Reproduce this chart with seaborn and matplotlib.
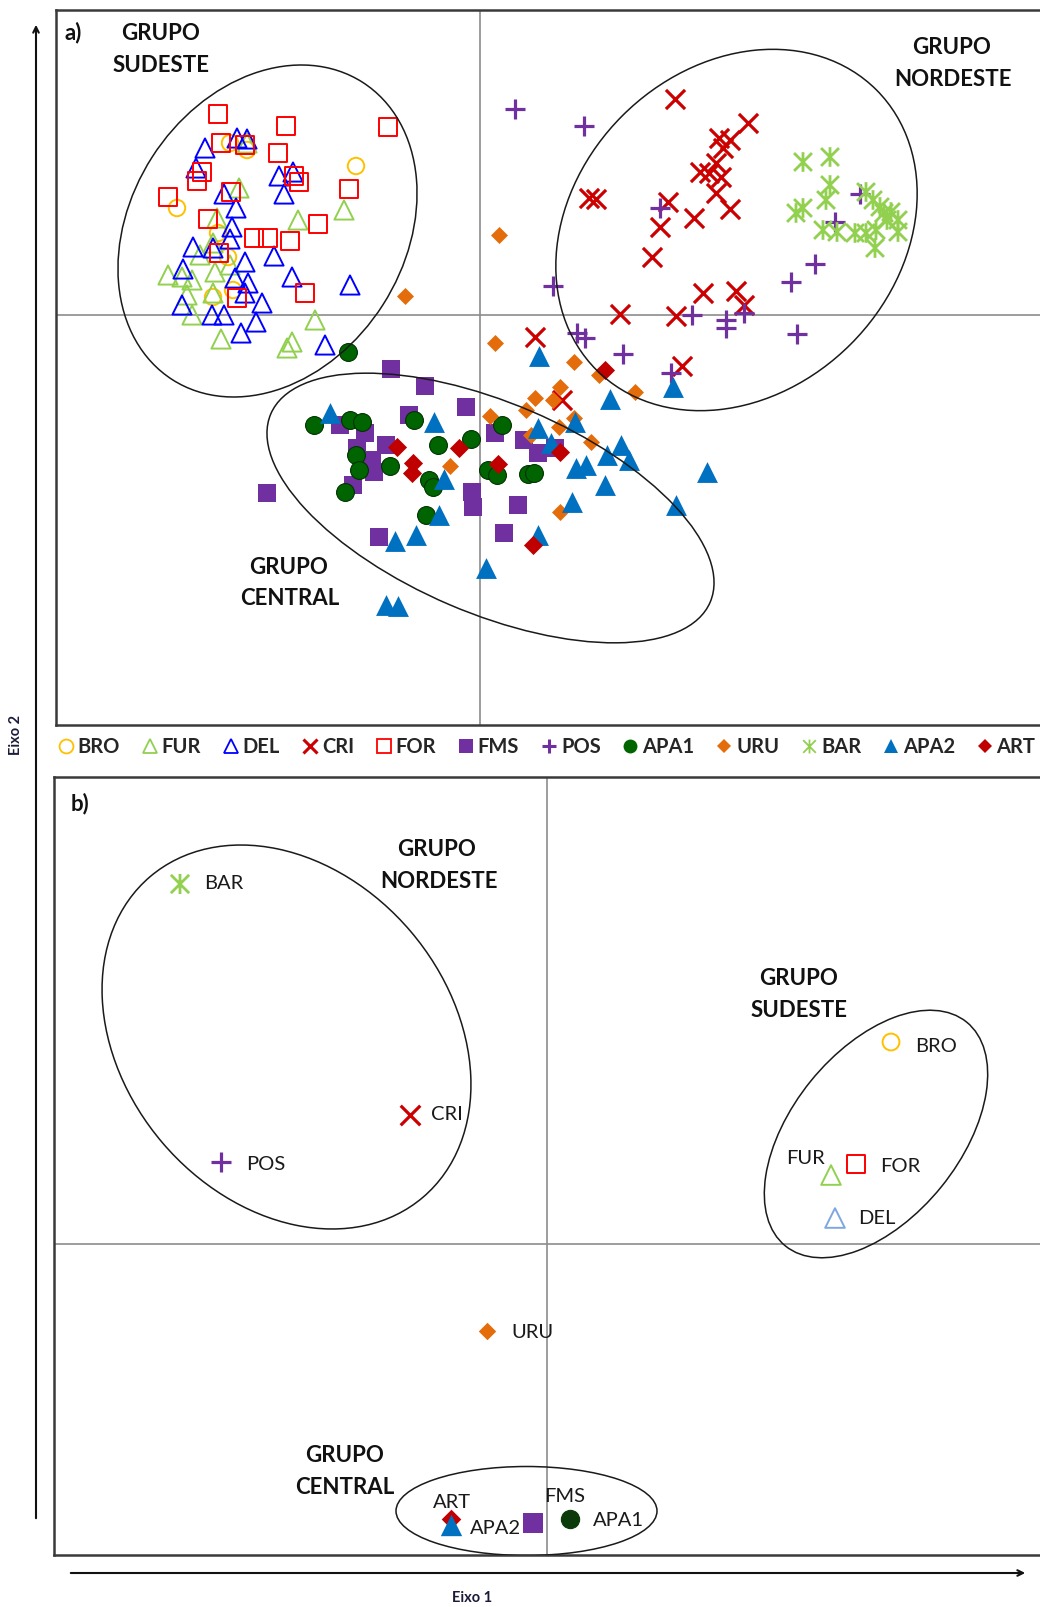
import numpy as np
import pandas as pd
import matplotlib
matplotlib.use("Agg")
import matplotlib.pyplot as plt
import seaborn as sns
from matplotlib.patches import Ellipse, FancyArrowPatch
from matplotlib.path import Path
from matplotlib.lines import Line2D

sns.set_style("white")
plt.rcParams['font.family'] = ['Lato', 'DejaVu Sans']

# ------------------------------------------------------------------ data
groups = ["BRO", "FUR", "DEL", "CRI", "FOR", "FMS", "POS", "APA1", "URU", "BAR", "APA2", "ART"]

# panel a) individual scores (Eixo 1, Eixo 2)
bro_x = [-2.50, -2.33, -1.24, -3.03, -2.62, -2.52, -2.67, -2.47]
bro_y = [1.72, 1.65, 1.49, 1.07, 0.82, 0.58, 0.18, 0.25]

fur_x = [-2.33, -2.41, -1.36, -1.82, -2.63, -3.12, -2.98, -2.88, -2.65, -2.80,
         -2.67, -2.93, -2.88, -1.65, -2.59, -1.88, -1.93, -2.50, -2.67]
fur_y = [1.72, 1.27, 1.05, 0.95, 0.97, 0.40, 0.38, 0.35, 0.43, 0.60,
         0.22, 0.20, 0.00, -0.05, -0.24, -0.27, -0.33, 0.50, 0.72]

del_x = [-2.43, -2.33, -2.75, -2.84, -2.01, -1.87, -1.96, -2.56, -2.44, -2.48,
         -2.50, -2.87, -2.67, -2.35, -2.06, -2.97, -1.88, -2.45, -2.32, -1.30,
         -2.18, -2.98, -2.68, -2.56, -2.24, -2.39, -1.55, -2.35]
del_y = [1.77, 1.76, 1.67, 1.47, 1.39, 1.43, 1.21, 1.21, 1.07, 0.88,
         0.76, 0.68, 0.67, 0.53, 0.59, 0.46, 0.38, 0.37, 0.32, 0.30,
         0.12, 0.10, 0.00, 0.00, -0.07, -0.18, -0.30, 0.22]

cri_x = [1.95, 2.68, 2.39, 2.50, 2.43, 2.36, 2.20, 2.29, 2.41, 1.09,
         1.16, 1.88, 2.36, 2.50, 2.14, 1.80, 1.72, 2.23, 2.56, 2.64,
         1.40, 1.96, 0.55, 2.02, 0.82]
cri_y = [2.16, 1.92, 1.77, 1.75, 1.67, 1.52, 1.43, 1.42, 1.38, 1.17,
         1.16, 1.13, 1.22, 1.06, 0.97, 0.88, 0.58, 0.22, 0.24, 0.10,
         0.01, -0.01, -0.22, -0.51, -0.85]

for_x = [-2.62, -1.94, -0.92, -2.59, -2.35, -2.02, -2.78, -2.83, -1.86, -1.81,
         -1.31, -3.12, -2.49, -2.72, -1.62, -2.26, -2.12, -1.90, -2.61, -1.75, -2.43]
for_y = [2.01, 1.89, 1.88, 1.72, 1.70, 1.62, 1.43, 1.34, 1.39, 1.33,
         1.26, 1.18, 1.23, 0.96, 0.91, 0.77, 0.77, 0.74, 0.62, 0.22, 0.17]

fms_x = [-0.89, -0.55, -0.14, -0.71, -1.40, -1.15, -0.94, -1.23, -1.08, -1.06,
         -1.27, -2.13, -0.08, -0.07, 0.38, 0.15, 0.44, 0.58, 0.75, -1.01, 0.24]
fms_y = [-0.54, -0.71, -0.92, -1.00, -1.10, -1.18, -1.30, -1.33, -1.45, -1.57,
         -1.70, -1.78, -1.77, -1.92, -1.90, -1.18, -1.25, -1.38, -1.33, -2.22, -2.18]

pos_x = [0.35, 1.04, 1.80, 3.80, 3.55, 3.35, 3.11, 0.73, 2.12, 2.46,
         2.46, 2.64, 3.17, 0.97, 1.05, 1.43, 1.91]
pos_y = [2.06, 1.89, 1.07, 1.21, 0.93, 0.51, 0.33, 0.29, 0.00, -0.05,
         -0.13, 0.02, -0.19, -0.18, -0.23, -0.39, -0.58]

apa1_x = [-1.32, -1.66, -1.30, -1.18, -0.66, 0.22, -1.24, -1.21, -0.90, -0.42,
          -0.09, -1.35, -0.51, -0.47, 0.08, 0.17, 0.48, 0.54, -0.54]
apa1_y = [-0.37, -1.10, -1.05, -1.07, -1.05, -1.10, -1.40, -1.55, -1.51, -1.30,
          -1.24, -1.77, -1.65, -1.72, -1.55, -1.60, -1.59, -1.58, -2.00]

uru_x = [0.19, -0.75, 0.15, 0.94, 0.80, 0.55, 0.73, 1.55, 0.10, 0.46,
         0.94, 0.79, 0.51, 1.11, -0.30, 1.19, 0.80]
uru_y = [0.80, 0.19, -0.28, -0.47, -0.72, -0.83, -0.85, -0.77, -1.01, -0.95,
         -1.03, -1.12, -1.20, -1.27, -1.51, -0.60, -1.97]

bar_x = [3.23, 3.50, 3.50, 3.46, 3.23, 3.16, 3.86, 3.93, 4.00, 4.11,
         4.18, 3.43, 3.57, 3.75, 3.86, 3.96, 4.07, 4.18, 3.95, 4.04]
bar_y = [1.53, 1.58, 1.30, 1.15, 1.07, 1.02, 1.23, 1.15, 1.08, 1.03,
         0.95, 0.85, 0.83, 0.82, 0.82, 0.85, 0.95, 0.83, 0.67, 1.02]

apa2_x = [-1.50, -0.46, -0.36, -0.41, -0.85, -0.64, 0.06, -0.94, -0.82, 0.59,
          1.30, 1.93, 0.58, 0.95, 0.71, 1.41, 1.27, 1.49, 0.96, 1.06,
          1.25, 0.92, 1.96, 2.27, 0.58]
apa2_y = [-0.98, -1.07, -1.64, -2.00, -2.26, -2.20, -2.53, -2.90, -2.91, -0.41,
          -0.84, -0.72, -1.13, -1.07, -1.28, -1.30, -1.40, -1.45, -1.53, -1.50,
          -1.70, -1.87, -1.90, -1.57, -2.20]

art_x = [1.25, -0.83, -0.21, -0.67, -0.68, 0.18, 0.80, 0.53]
art_y = [-0.55, -1.32, -1.33, -1.48, -1.58, -1.49, -1.37, -2.30]

# panel b) group centroids
cent_x = [3.44, 2.84, 2.88, -1.37, 3.09, -0.14, -3.26, 0.23, -0.60, -3.67, -0.96, -0.96]
cent_y = [2.02, 0.69, 0.26, 1.29, 0.80, -2.79, 0.82, -2.75, -0.87, 3.60, -2.81, -2.75]

# group ellipses: (center x, center y, width, height, angle)
ell_a = {"SUDESTE": (-2.125, 0.84, 3.53, 2.74, 57.4),
         "NORDESTE": (2.565, 0.85, 3.96, 3.23, 45.0),
         "CENTRAL": (0.105, -1.93, 4.78, 2.10, -23.2)}
ell_b = {"NORDESTE": (-2.605, 2.07, 4.21, 3.26, -49.6),
         "SUDESTE": (3.29, 1.10, 2.88, 1.68, 51.0),
         "CENTRAL": (-0.205, -2.67, 2.61, 0.89, 0.0)}

# ------------------------------------------------------------------ styles
star_path = Path([(-0.5, -0.5), (0.5, 0.5), (-0.5, 0.5), (0.5, -0.5), (0, -0.55), (0, 0.55)],
                 [Path.MOVETO, Path.LINETO, Path.MOVETO, Path.LINETO, Path.MOVETO, Path.LINETO])

style = {
    "BRO":  dict(marker="o", color="#FFC000", kind="open", s=140, lw=1.4),
    "FUR":  dict(marker="^", color="#92D050", kind="open", s=190, lw=1.4),
    "DEL":  dict(marker="^", color="#0000FF", kind="open", s=190, lw=1.4),
    "CRI":  dict(marker="x", color="#CC0000", kind="line", s=190, lw=2.3),
    "FOR":  dict(marker="s", color="#FF0000", kind="open", s=165, lw=1.4),
    "FMS":  dict(marker="s", color="#7030A0", kind="fill", s=185, lw=0.0),
    "POS":  dict(marker="+", color="#7030A0", kind="line", s=200, lw=2.3),
    "APA1": dict(marker="o", color="#006400", kind="fill", s=165, lw=0.8, ec="#003300"),
    "URU":  dict(marker="D", color="#E46C0A", kind="fill", s=75, lw=0.0),
    "BAR":  dict(marker=star_path, color="#92D050", kind="open", s=200, lw=2.0),
    "APA2": dict(marker="^", color="#0070C0", kind="fill", s=225, lw=0.0),
    "ART":  dict(marker="D", color="#C00000", kind="fill", s=95, lw=0.0),
}

panel_a = {
    "BRO": (bro_x, bro_y), "FUR": (fur_x, fur_y), "DEL": (del_x, del_y),
    "CRI": (cri_x, cri_y), "FOR": (for_x, for_y), "FMS": (fms_x, fms_y),
    "POS": (pos_x, pos_y), "APA1": (apa1_x, apa1_y), "URU": (uru_x, uru_y),
    "BAR": (bar_x, bar_y), "APA2": (apa2_x, apa2_y), "ART": (art_x, art_y),
}


def draw(ax, g, xs, ys, st, scale=1.0, color=None, ec=None):
    col = color or st["color"]
    df = pd.DataFrame({"x": xs, "y": ys})
    kw = dict(data=df, x="x", y="y", ax=ax, marker=st["marker"], s=st["s"] * scale,
              legend=False, zorder=3)
    if st["kind"] == "open":
        sns.scatterplot(**kw, facecolor="none", edgecolor=col, linewidth=st["lw"])
    elif st["kind"] == "line":
        sns.scatterplot(**kw, color=col, edgecolor=None, linewidth=st["lw"])
    else:
        sns.scatterplot(**kw, color=col, edgecolor=ec or st.get("ec", col),
                        linewidth=st["lw"])


def frame(ax):
    ax.set_xticks([]); ax.set_yticks([])
    ax.set_xlabel(""); ax.set_ylabel("")
    for side in ["left", "top", "bottom"]:
        ax.spines[side].set_visible(True)
        ax.spines[side].set_color("#3a3a3a")
        ax.spines[side].set_linewidth(1.8)
    ax.spines["right"].set_visible(False)
    ax.axhline(0, color="#8c8c8c", lw=1.2, zorder=1)
    ax.axvline(0, color="#8c8c8c", lw=1.2, zorder=1)


W, H = 1040, 1607
fig = plt.figure(figsize=(W / 100, H / 100), dpi=100)

ttl = dict(fontsize=16, fontweight="bold", color="#111111", ha="center", va="center")
lbl = dict(fontsize=14.5, color="#1a1a1a", va="center")

# ---------------- panel a
axa = fig.add_axes([56 / W, 1 - 725 / H, 984 / W, 715 / H])
for g in groups:
    xs, ys = panel_a[g]
    draw(axa, g, xs, ys, style[g])
axa.set_xlim(-4.24, 5.60)
axa.set_ylim(-4.10, 3.05)
frame(axa)
for name, (cx, cy, w, h, ang) in ell_a.items():
    axa.add_patch(Ellipse((cx, cy), w, h, angle=ang, fill=False, ec="#1a1a1a", lw=1.1, zorder=4))
axa.text(-4.07, 2.82, "a)", **ttl)
axa.text(-3.19, 2.82, "GRUPO", **ttl); axa.text(-3.19, 2.49, "SUDESTE", **ttl)
axa.text(4.72, 2.68, "GRUPO", **ttl); axa.text(4.73, 2.36, "NORDESTE", **ttl)
axa.text(-1.91, -2.52, "GRUPO", **ttl); axa.text(-1.90, -2.84, "CENTRAL", **ttl)

# ---------------- panel b
axb = fig.add_axes([54 / W, 1 - 1555 / H, 986 / W, 778 / H])
bcol = {"DEL": "#7DA7E0", "APA1": "#0B3B0B"}
order_b = ["BRO", "FUR", "DEL", "CRI", "FOR", "FMS", "POS", "APA1", "URU", "BAR", "ART", "APA2"]
for g in order_b:
    i = groups.index(g)
    draw(axb, g, [cent_x[i]], [cent_y[i]], style[g], scale=1.05,
         color=bcol.get(g), ec=bcol.get(g))
axb.set_xlim(-4.93, 4.93)
axb.set_ylim(-3.11, 4.67)
frame(axb)
for name, (cx, cy, w, h, ang) in ell_b.items():
    axb.add_patch(Ellipse((cx, cy), w, h, angle=ang, fill=False, ec="#1a1a1a", lw=1.1, zorder=4))

lab_pos = {"BAR": (-3.43, 3.60, "left"), "CRI": (-1.16, 1.29, "left"), "POS": (-3.01, 0.80, "left"),
           "BRO": (3.68, 1.98, "left"), "FUR": (2.59, 0.86, "center"), "FOR": (3.33, 0.78, "left"),
           "DEL": (3.11, 0.26, "left"), "URU": (-0.36, -0.88, "left"), "ART": (-0.95, -2.59, "center"),
           "APA2": (-0.77, -2.85, "left"), "FMS": (0.18, -2.52, "center"), "APA1": (0.46, -2.76, "left")}
for g, (tx, ty, ha) in lab_pos.items():
    axb.text(tx, ty, g, ha=ha, zorder=6, **lbl)

axb.text(-4.67, 4.40, "b)", **ttl)
axb.text(-1.10, 3.94, "GRUPO", **ttl); axb.text(-1.08, 3.62, "NORDESTE", **ttl)
axb.text(2.52, 2.65, "GRUPO", **ttl); axb.text(2.52, 2.33, "SUDESTE", **ttl)
axb.text(-2.02, -2.11, "GRUPO", **ttl); axb.text(-2.02, -2.44, "CENTRAL", **ttl)

# ---------------- legend
handles = []
for g in groups:
    st = style[g]
    if st["kind"] == "open":
        h = Line2D([], [], ls="none", marker=st["marker"], markersize=10, mfc="none",
                   mec=st["color"], mew=1.3)
    elif st["kind"] == "line":
        h = Line2D([], [], ls="none", marker=st["marker"], markersize=10, color=st["color"], mew=2.2)
    else:
        ms = 7 if st["marker"] == "D" else 10
        h = Line2D([], [], ls="none", marker=st["marker"], markersize=ms, color=st["color"], mew=0)
    handles.append(h)
fig.legend(handles, groups, ncol=12, loc="center", bbox_to_anchor=(547 / W, 1 - 747 / H),
           frameon=False, handlelength=0.7, handletextpad=0.25, columnspacing=1.12,
           borderpad=0, prop=dict(family=["Lato", "DejaVu Sans"], weight="bold", size=14.5))

# ---------------- axis arrows
fig.add_artist(FancyArrowPatch((36 / W, 1 - 1521 / H), (36 / W, 1 - 22 / H), transform=fig.transFigure,
                               arrowstyle="->", mutation_scale=10, lw=1.5, color="#111111"))
fig.add_artist(FancyArrowPatch((68 / W, 1 - 1573 / H), (1028 / W, 1 - 1573 / H), transform=fig.transFigure,
                               arrowstyle="->", mutation_scale=10, lw=1.5, color="#111111"))
fig.text(16 / W, 1 - 735 / H, "Eixo 2", rotation=90, ha="center", va="center",
         fontsize=10.5, fontweight="bold", color="#1a1a3a")
fig.text(472 / W, 1 - 1598 / H, "Eixo 1", ha="center", va="center",
         fontsize=10.5, fontweight="bold", color="#1a1a3a")

fig.savefig("out.png", dpi=100)
